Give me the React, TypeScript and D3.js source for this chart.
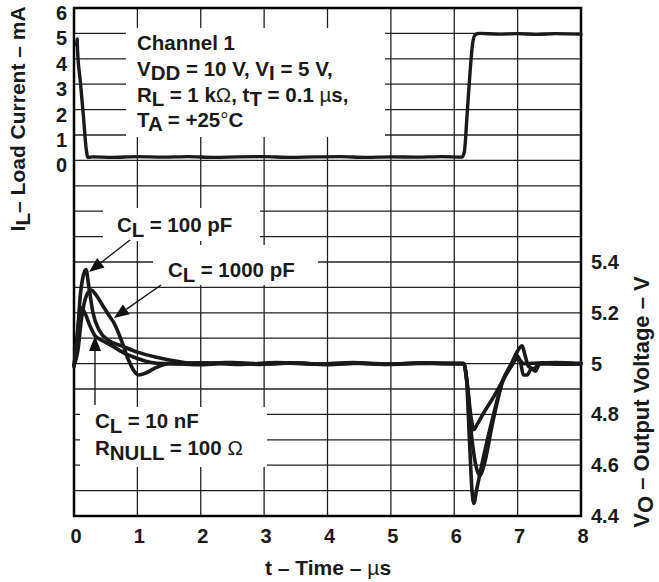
import React from "react";
import * as d3 from "d3";

// ---------- data ----------
const timeTicks = [0, 1, 2, 3, 4, 5, 6, 7, 8];
const currentTicks = [0, 1, 2, 3, 4, 5, 6];
const voltageTicks = [4.4, 4.6, 4.8, 5.0, 5.2, 5.4];
const voltageTickLabels = ["4.4", "4.6", "4.8", "5", "5.2", "5.4"];

// Load current (mA) vs time (µs)
const currentT = [0.04, 0.05, 0.055, 0.1, 0.15, 0.19, 0.22, 0.3, 0.6, 1.0, 1.4, 1.8, 2.2, 2.6, 3.0, 3.4, 3.8, 4.2, 4.6, 5.0, 5.4, 5.8, 6.12, 6.16, 6.2, 6.25, 6.29, 6.33, 6.4, 6.7, 7.0, 7.3, 7.6, 8.0];
const currentMA = [4.55, 4.78, 4.4, 3.1, 1.7, 0.5, 0.12, 0.14, 0.12, 0.15, 0.13, 0.15, 0.12, 0.14, 0.15, 0.12, 0.14, 0.15, 0.12, 0.14, 0.13, 0.15, 0.13, 0.35, 1.7, 3.5, 4.6, 4.95, 5.0, 4.97, 4.99, 4.96, 4.99, 4.97];

// Output voltage (V) vs time (µs), C_L = 100 pF
const v100T = [0, 0.05, 0.1, 0.15, 0.19, 0.23, 0.3, 0.4, 0.55, 0.75, 1.0, 1.3, 1.6, 1.9, 2.4, 2.9, 3.4, 3.9, 4.4, 4.9, 5.4, 5.9, 6.15, 6.19, 6.24, 6.28, 6.31, 6.35, 6.45, 6.6, 6.77, 6.9, 7.0, 7.07, 7.12, 7.17, 7.25, 7.35, 7.6, 8.0];
const v100 = [4.99, 5.1, 5.27, 5.35, 5.37, 5.31, 5.2, 5.13, 5.09, 5.07, 5.045, 5.025, 5.01, 5.0, 5.004, 4.997, 5.003, 4.998, 5.004, 4.997, 5.002, 5.0, 5.0, 4.95, 4.7, 4.5, 4.45, 4.5, 4.62, 4.78, 4.935, 5.0, 5.05, 5.07, 5.03, 4.99, 4.98, 5.0, 5.004, 5.0];

// C_L = 1000 pF
const v1000T = [0, 0.06, 0.12, 0.2, 0.27, 0.35, 0.45, 0.55, 0.63, 0.75, 0.85, 0.95, 1.02, 1.15, 1.3, 1.5, 2.0, 2.5, 3.0, 3.5, 4.0, 4.5, 5.0, 5.5, 6.0, 6.15, 6.2, 6.28, 6.36, 6.41, 6.47, 6.6, 6.77, 6.9, 7.0, 7.05, 7.09, 7.15, 7.22, 7.28, 7.35, 7.7, 8.0];
const v1000 = [4.99, 5.05, 5.18, 5.27, 5.29, 5.27, 5.23, 5.19, 5.16, 5.09, 5.02, 4.97, 4.955, 4.965, 4.985, 5.0, 4.996, 5.004, 4.998, 5.003, 4.996, 5.002, 4.998, 5.003, 5.0, 5.0, 4.93, 4.7, 4.58, 4.56, 4.6, 4.76, 4.935, 4.99, 5.03, 5.0, 4.955, 4.955, 4.98, 4.97, 5.0, 4.998, 5.0];

// C_L = 10 nF, R_NULL = 100 Ω
const v10nT = [0, 0.04, 0.08, 0.12, 0.17, 0.25, 0.33, 0.45, 0.6, 0.8, 1.0, 1.2, 1.4, 2.0, 2.6, 3.2, 3.8, 4.4, 5.0, 5.6, 6.15, 6.2, 6.27, 6.31, 6.36, 6.45, 6.6, 6.77, 6.9, 7.0, 7.1, 7.4, 7.8, 8.0];
const v10n = [4.99, 5.08, 5.18, 5.22, 5.2, 5.15, 5.11, 5.09, 5.07, 5.04, 5.02, 5.005, 5.0, 5.003, 4.997, 5.004, 4.998, 5.002, 4.997, 5.002, 5.0, 4.93, 4.78, 4.74, 4.76, 4.8, 4.86, 4.935, 4.99, 5.02, 5.0, 5.003, 4.998, 5.0];

// ---------- layout ----------
const W = 659;
const H = 582;
const L = 74, R = 581, T = 8, B = 516;
const FONT = "'Liberation Sans', Arial, Helvetica, sans-serif";

const x = d3.scaleLinear().domain([0, 8]).range([L, R]);
const yI = d3.scaleLinear().domain([-14, 6]).range([B, T]);
const yV = d3.scaleLinear().domain([4.4, 6.4]).range([B, T]);

const gridH = d3.range(-14, 7, 1);

function zip(ts: number[], vs: number[]) {
  return ts.map((t, i) => [t, vs[i]] as [number, number]);
}

const lineI = d3.line<[number, number]>().x(d => x(d[0])).y(d => yI(d[1])).curve(d3.curveMonotoneX);
const lineV = d3.line<[number, number]>().x(d => x(d[0])).y(d => yV(d[1])).curve(d3.curveMonotoneX);

function Arrow({ x1, y1, x2, y2 }: { x1: number; y1: number; x2: number; y2: number }) {
  const len = 15, half = 6;
  const dx = x2 - x1, dy = y2 - y1;
  const d = Math.hypot(dx, dy);
  const ux = dx / d, uy = dy / d;
  const bx = x2 - ux * len, by = y2 - uy * len;
  const pts = [
    [x2, y2],
    [bx - uy * half, by + ux * half],
    [bx + uy * half, by - ux * half],
  ];
  return (
    <g>
      <line x1={x1} y1={y1} x2={bx} y2={by} stroke="#111" strokeWidth={1.3} />
      <polygon points={pts.map(p => p.join(",")).join(" ")} fill="#111" />
    </g>
  );
}

// parts: [text, kind] ; kind "n" normal, "s" subscript, "l" light weight
function rich(parts: [string, string][], shift = 5) {
  let off = 0;
  return parts.map(([s, k], i) => {
    const target = k === "s" ? shift : 0;
    const dy = target - off;
    off = target;
    return (
      <tspan key={i} dy={dy !== 0 ? dy : undefined} fontWeight={k === "l" ? "normal" : undefined}>
        {s}
      </tspan>
    );
  });
}

export default function App() {
  return (
    <svg width={W} height={H} style={{ display: "block", position: "absolute", left: 0, top: 0 }} fontFamily={FONT} fontWeight="bold">
      <rect x={0} y={0} width={W} height={H} fill="#fff" />
      {/* grid */}
      <g stroke="#222" strokeWidth={1.3}>
        {gridH.map(v => (
          <line key={"h" + v} x1={L} x2={R} y1={yI(v)} y2={yI(v)} />
        ))}
        {timeTicks.map(t => (
          <line key={"v" + t} x1={x(t)} x2={x(t)} y1={T} y2={B} />
        ))}
      </g>
      {/* white annotation backgrounds */}
      <g fill="#fff">
        <rect x={126} y={28} width={259} height={109} />
        <rect x={103} y={208} width={157} height={33} />
        <rect x={153} y={245} width={165} height={40} />
        <rect x={80} y={407} width={187} height={60} />
      </g>
      {/* frame */}
      <rect x={L} y={T} width={R - L} height={B - T} fill="none" stroke="#000" strokeWidth={2.5} />

      {/* traces */}
      <g fill="none" stroke="#1a1a1a" strokeLinejoin="round" strokeLinecap="round">
        <path d={lineI(zip(currentT, currentMA)) || ""} strokeWidth={3.4} />
        <path d={lineV(zip(v10nT, v10n)) || ""} strokeWidth={3.6} />
        <path d={lineV(zip(v1000T, v1000)) || ""} strokeWidth={3.6} />
        <path d={lineV(zip(v100T, v100)) || ""} strokeWidth={3.6} />
      </g>

      {/* annotations */}
      <g fontSize={20.5} fill="#1a1a1a">
        <text x={137} y={50}>Channel 1</text>
        <text x={137} y={76}>{rich([["V", "n"], ["DD", "s"], [" = 10 V, V", "n"], ["I", "s"], [" = 5 V,", "n"]], 4)}</text>
        <text x={137} y={101.5}>{rich([["R", "n"], ["L", "s"], [" = 1 k", "n"], ["Ω", "l"], [", t", "n"], ["T", "s"], [" = 0.1 ", "n"], ["µ", "l"], ["s,", "n"]], 4)}</text>
        <text x={137} y={127}>{rich([["T", "n"], ["A", "s"], [" = +25", "n"], ["°", "l"], ["C", "n"]], 4)}</text>

        <text x={117} y={232}>{rich([["C", "n"], ["L", "s"], [" = 100 pF", "n"]])}</text>
        <text x={168} y={277}>{rich([["C", "n"], ["L", "s"], [" = 1000 pF", "n"]])}</text>
        <text x={95} y={428}>{rich([["C", "n"], ["L", "s"], [" = 10 nF", "n"]])}</text>
        <text x={95} y={455}>{rich([["R", "n"], ["NULL", "s"], [" = 100 ", "n"], ["Ω", "l"]])}</text>
      </g>
      <Arrow x1={130} y1={240} x2={89} y2={272} />
      <Arrow x1={161} y1={285} x2={114} y2={318} />
      <Arrow x1={95} y1={405} x2={95} y2={336} />

      {/* axes tick labels */}
      <g fontSize={20} fill="#1a1a1a">
        {currentTicks.map(v => (
          <text key={"l" + v} x={67} y={yI(v) + 12} textAnchor="end">{v}</text>
        ))}
        {voltageTicks.map((v, i) => (
          <text key={"r" + v} x={591} y={yV(v) + 7}>{voltageTickLabels[i]}</text>
        ))}
        {timeTicks.map(t => (
          <text key={"b" + t} x={x(t) + 2} y={543} textAnchor="middle">{t}</text>
        ))}
      </g>
      {/* axis titles */}
      <g fontSize={21} fill="#1a1a1a">
        <text x={328} y={575} textAnchor="middle">{rich([["t – Time – ", "n"], ["µ", "l"], ["s", "n"]])}</text>
        <text transform="translate(25,119) rotate(-90)" textAnchor="middle">{rich([["I", "n"], ["L", "s"], ["– Load Current – mA", "n"]])}</text>
        <text transform="translate(649,402) rotate(-90)" textAnchor="middle" fontSize={22}>{rich([["V", "n"], ["O", "s"], [" – Output Voltage – V", "n"]], 4)}</text>
      </g>
    </svg>
  );
}
